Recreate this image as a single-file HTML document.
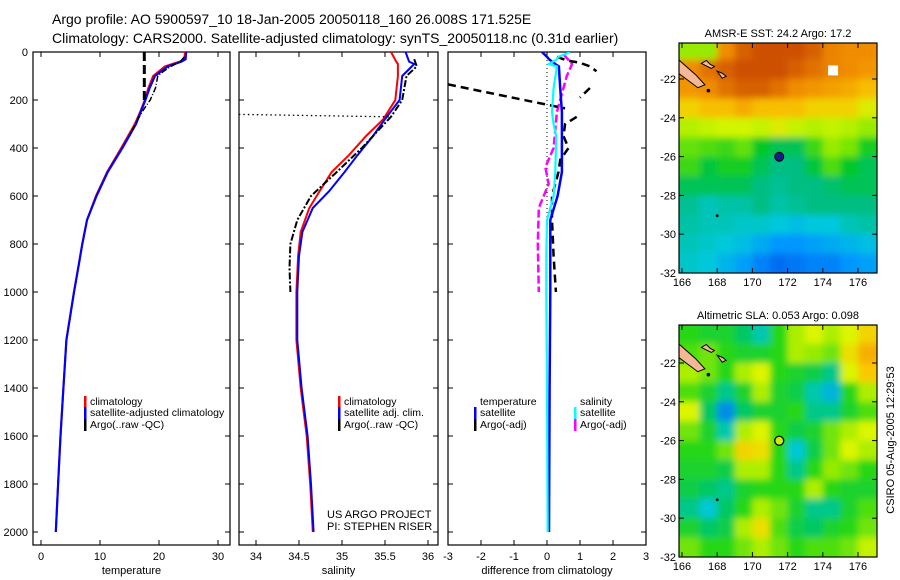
<!DOCTYPE html>
<html><head><meta charset="utf-8">
<style>
html,body{margin:0;padding:0;background:#fff;}
svg{display:block;font-family:"Liberation Sans",sans-serif;}
</style></head>
<body>
<svg id="fig" width="900" height="580" viewBox="0 0 900 580" xmlns="http://www.w3.org/2000/svg">
<defs>
<filter id="blur1" x="-5%" y="-5%" width="110%" height="110%"><feGaussianBlur stdDeviation="3.5"/></filter>
<clipPath id="clipP1"><rect x="33" y="52" width="197" height="493"/></clipPath>
<clipPath id="clipP2"><rect x="239" y="52" width="199" height="493"/></clipPath>
<clipPath id="clipP3"><rect x="448" y="52" width="198" height="493"/></clipPath>
<clipPath id="clipM1"><rect x="679" y="43" width="198" height="230"/></clipPath>
<clipPath id="clipM2"><rect x="679" y="325" width="198" height="232"/></clipPath>
</defs>
<text x="52" y="24" font-size="14">Argo profile: AO 5900597_10 18-Jan-2005 20050118_160 26.008S 171.525E</text>
<text x="52" y="43" font-size="14">Climatology: CARS2000. Satellite-adjusted climatology: synTS_20050118.nc (0.31d earlier)</text>
<text x="778" y="37" font-size="11" text-anchor="middle">AMSR-E SST: 24.2 Argo: 17.2</text>
<text x="778" y="319" font-size="11" text-anchor="middle">Altimetric SLA: 0.053 Argo: 0.098</text>
<text transform="translate(894,440) rotate(-90)" font-size="11" text-anchor="middle">CSIRO 05-Aug-2005 12:29:53</text>
<text x="327" y="518" font-size="11">US ARGO PROJECT</text>
<text x="327" y="530" font-size="11">PI: STEPHEN RISER</text>
</svg>
<script>
// ---------- data ----------
const depthTicks = [0,200,400,600,800,1000,1200,1400,1600,1800,2000];
const tempTicks = [0,10,20,30];
const salTicks = [34,34.5,35,35.5,36];
const salTickLabels = ["34","34.5","35","35.5","36"];
const diffTicks = [-3,-2,-1,0,1,2,3];

const climTDepth = [0,30,40,60,100,150,200,250,300,400,500,600,700,800,900,1000,1200,1400,1600,1800,2000];
const climTVal   = [24.4,24.3,23.5,21,19.0,18.2,17.6,16.8,15.9,13.6,11.2,9.3,7.8,7.0,6.3,5.6,4.3,3.8,3.3,2.9,2.5];
const satTVal    = [24.6,24.5,23.8,21.5,19.3,18.4,17.7,16.9,16.1,13.8,11.3,9.4,7.8,7.0,6.3,5.6,4.3,3.8,3.3,2.9,2.5];
const argoTDepth = [20,40,60,80,100,150,200,250,300,350];
const argoTVal   = [24.3,23.6,22.0,20.8,19.8,19.4,18.5,17.1,16.0,15.0];
const argoRawTDepth = [0,200];
const argoRawTVal = [17.5,17.5];

const salDepth = [0,40,50,100,200,280,350,430,500,580,650,750,850,1000,1200,1400,1600,1800,2000];
const climSVal = [35.57,35.63,35.65,35.65,35.62,35.48,35.28,35.08,34.88,34.74,34.62,34.52,34.49,34.47,34.47,34.52,34.59,34.63,34.66];
const satSVal  = [35.74,35.78,35.84,35.7,35.67,35.5,35.36,35.18,35.03,34.85,34.66,34.54,34.5,34.48,34.48,34.53,34.6,34.64,34.67];
const argoSDepth = [30,60,100,200,270,400,500,600,700,800,900,1000];
const argoSVal   = [35.84,35.87,35.75,35.7,35.57,35.23,34.94,34.64,34.48,34.4,34.39,34.4];
const argoSFlagDepth = 260;
const argoSFlagVal = 33.8;

const diffDepth = [0,20,30,50,60,150,250,300,350,500,600,700,850,1000,1400,2000];
const satTDiff  = [-0.15,0.0,0.06,0.25,0.36,0.4,0.45,0.45,0.45,0.45,0.32,0.1,0.1,0.1,0.08,0.06];
const satSDiff  = [0.7,0.35,0.3,0.06,0.3,0.2,0.15,0.2,0.28,0.25,0.2,0.0,-0.02,-0.02,0.0,0.02];
const argoSDDepth = [10,50,100,250,400,480,550,600,650,800,1000];
const argoSDiff   = [0.5,0.76,0.6,0.3,0.2,-0.05,0.05,-0.1,-0.25,-0.28,-0.25];
const argoTDDepth = [20,35,45,60,80,null,135,235,null,150,190,null,270,300,350,400,450,500,600,700,850,1000];
const argoTDiff   = [0.3,0.6,1.0,1.3,1.5,null,-3.0,0.55,null,1.3,1.0,null,0.9,0.55,0.5,0.65,0.4,0.35,0.15,0.15,0.2,0.27];

const mapLons = [166.5,167.5,168.5,169.5,170.5,171.5,172.5,173.5,174.5,175.5,176.5];
const mapLats = [-20.5,-21.5,-22.5,-23.5,-24.5,-25.5,-26.5,-27.5,-28.5,-29.5,-30.5,-31.5];
const sstGrid = [
[24,24,25.5,26,26.2,26.3,26.2,26,25.6,25.5,25.5],
[25.5,25.8,26,26.2,26.3,26.3,26,25.8,25.6,25.5,25.4],
[25.4,25.5,25.8,26,26,25.8,25.5,25.4,25.3,25.2,25],
[24.8,25,25,25.2,25,25,25,24.8,24.8,24.8,24.5],
[24.2,24.3,24.4,24.4,24.3,24.5,24.3,24.2,24.3,24.2,24],
[23.7,23.6,23.5,23.7,23.2,23,23,23.5,24,23.8,23.3],
[23.5,23.1,23.3,23.3,23,22.8,22.8,23.1,23.6,23.2,23],
[23,23,23,23,22.8,22.7,22.8,22.8,22.9,23,23],
[22.7,22.5,22.6,22.6,22.8,22.6,22.7,22.8,22.8,22.8,22.8],
[22.6,22.5,22.5,22.4,22.4,22.3,22.2,22.3,22.3,22.5,22.6],
[22.5,22.4,22.3,22.2,22,21.8,21.8,21.9,22,22.1,22.2],
[22.4,22.3,22.1,21.9,21.6,21.4,21.5,21.6,21.6,21.8,21.9]];
const slaGrid = [
[.06,.05,.05,.03,.01,.06,.1,.12,.1,.12,.15],
[.07,.08,.06,.05,.05,.06,.1,.09,.08,.14,.18],
[.1,.08,.06,.1,.12,.06,.05,.04,.02,.12,.16],
[.07,.05,.02,.05,.1,.05,.04,.01,-.01,.06,.1],
[.12,.03,-.03,.03,.05,.05,.06,.02,.02,.05,.07],
[.08,.05,.01,.1,.12,.06,.04,.05,.08,.1,.12],
[.06,.06,.08,.15,.14,.06,.0,.04,.08,.12,.1],
[.05,.05,.04,.1,.1,.06,.02,.06,.09,.08,.06],
[.04,.03,.02,.05,.06,.06,.06,.1,.06,.05,.05],
[.02,.0,.03,.06,.1,.08,.05,.02,.02,.05,.07],
[.05,.03,.04,.1,.14,.07,.04,.03,.05,.06,.08],
[.08,.06,.06,.08,.1,.08,.06,.07,.07,.08,.11]];
const latTicks = [-22,-24,-26,-28,-30,-32];
const lonTicks = [166,168,170,172,174,176];
const argoLon = 171.525, argoLat = -26.008;

// ---------- scales ----------
const yD = d => 52 + d*0.24;
const xT = t => 41 + t*5.9;
const xS = s => 256 + (s-34)*86;
const xDf = v => 547 + v*33;
const mx = lon => 682 + (lon-166)*17.6;
const my1 = lat => 79 + (-22-lat)*19.4;
const my2 = lat => 363 + (-22-lat)*19.4;

const svg = document.getElementById('fig');
const NS = 'http://www.w3.org/2000/svg';
function mk(tag, attrs, parent){ const e=document.createElementNS(NS,tag); for(const k in attrs) e.setAttribute(k,attrs[k]); (parent||svg).appendChild(e); return e; }
function pathFrom(depths, vals, xf){
  let d='', pen=false;
  for(let i=0;i<depths.length;i++){
    if(depths[i]===null||vals[i]===null){pen=false;continue;}
    d += (pen?'L':'M') + xf(vals[i]).toFixed(1) + ' ' + yD(depths[i]).toFixed(1) + ' ';
    pen=true;
  }
  return d;
}
function line(depths, vals, xf, color, w, dash, clip, name){
  const p = mk('path',{d:pathFrom(depths,vals,xf),fill:'none',stroke:color,'stroke-width':w,'clip-path':'url(#'+clip+')'});
  if(dash) p.setAttribute('stroke-dasharray',dash);
  
  
}

// ---------- profile panels ----------
const panels = [
 {x0:33,x1:230,ticks:tempTicks,labels:tempTicks.map(String),xf:xT,title:'temperature',name:'temperature-panel'},
 {x0:239,x1:438,ticks:salTicks,labels:salTickLabels,xf:xS,title:'salinity',name:'salinity-panel'},
 {x0:448,x1:646,ticks:diffTicks,labels:diffTicks.map(String),xf:xDf,title:'difference from climatology',name:'difference-panel'}];
panels.forEach((p,pi)=>{
  const g = mk('g',{});
  
  
  mk('rect',{x:p.x0,y:52,width:p.x1-p.x0,height:493,fill:'none',stroke:'#000','stroke-width':1.2},g);
  depthTicks.forEach(d=>{
    mk('line',{x1:p.x0,x2:p.x0+5,y1:yD(d),y2:yD(d),stroke:'#000'},g);
    mk('line',{x1:p.x1-5,x2:p.x1,y1:yD(d),y2:yD(d),stroke:'#000'},g);
    if(pi===0){
      const t = mk('text',{x:28,y:yD(d)+4,'font-size':11,'text-anchor':'end'},g);
      t.textContent = d;
      
      
    }
  });
  p.ticks.forEach((v,i)=>{
    const x=p.xf(v);
    mk('line',{x1:x,x2:x,y1:545,y2:540,stroke:'#000'},g);
    mk('line',{x1:x,x2:x,y1:52,y2:57,stroke:'#000'},g);
    const t = mk('text',{x:x,y:560,'font-size':11,'text-anchor':'middle'},g);
    t.textContent = p.labels[i];
    
    
  });
  const tt = mk('text',{x:(p.x0+p.x1)/2,y:574,'font-size':11,'text-anchor':'middle'},g);
  tt.textContent = p.title;
  
  
});

// temperature
line(climTDepth, climTVal, xT, '#f00', 2, null, 'clipP1', 'temp-climatology-line');
line(climTDepth, satTVal, xT, '#00f', 2.2, null, 'clipP1', 'temp-satellite-line');
line(argoTDepth, argoTVal, xT, '#000', 1.5, '6 2 1 2', 'clipP1', 'temp-argo-line');
line(argoRawTDepth, argoRawTVal, xT, '#000', 3, '9 4', 'clipP1', 'temp-argo-raw-line');
// salinity
line(salDepth, climSVal, xS, '#f00', 2, null, 'clipP2', 'sal-climatology-line');
line(salDepth, satSVal, xS, '#00f', 2, null, 'clipP2', 'sal-satellite-line');
line(argoSDepth, argoSVal, xS, '#000', 2, '7 2 2 2', 'clipP2', 'sal-argo-line');
line([argoSFlagDepth,argoSFlagDepth+10],[argoSFlagVal,35.55], xS, '#000', 1.3, '1.5 3', 'clipP2', 'sal-argo-flag-line');
// difference
line([0,1000],[0,0], xDf, '#000', 1, '1 3', 'clipP3', 'zero-reference-line');
line(argoSDDepth, argoSDiff, xDf, '#f0f', 2.5, '8 3', 'clipP3', 'sal-argo-diff-line');
line(argoTDDepth, argoTDiff, xDf, '#000', 2.5, '8 5', 'clipP3', 'temp-argo-diff-line');
line(diffDepth, satTDiff, xDf, '#00f', 2.5, null, 'clipP3', 'temp-satellite-diff-line');
line(diffDepth, satSDiff, xDf, '#0ff', 2.2, null, 'clipP3', 'sal-satellite-diff-line');

// legends
function legend(x,y,color,label,name){
  const g = mk('g',{});
  
  
  if(color) mk('rect',{x:x,y:y-9,width:2.5,height:12,fill:color},g);
  const t = mk('text',{x:x+6,y:y,'font-size':10.5},g);
  t.textContent = label;
}
legend(84,405,'#f00','climatology','legend-entry-climatology');
legend(84,416,'#00f','satellite-adjusted climatology','legend-entry-satellite');
legend(84,428,'#000','Argo(..raw -QC)','legend-entry-argo');
legend(338,405,'#f00','climatology','legend-entry-climatology');
legend(338,416,'#00f','satellite adj. clim.','legend-entry-satellite');
legend(338,428,'#000','Argo(..raw -QC)','legend-entry-argo');
legend(474,405,null,'temperature','legend-header-temperature');
legend(474,416,'#00f','satellite','legend-entry-temp-satellite');
legend(474,428,'#000','Argo(-adj)','legend-entry-temp-argo');
legend(574,405,null,'salinity','legend-header-salinity');
legend(574,416,'#0ff','satellite','legend-entry-sal-satellite');
legend(574,428,'#f0f','Argo(-adj)','legend-entry-sal-argo');

// ---------- maps ----------
function lerpColor(stops, v){
  if(v<=stops[0][0]) return 'rgb('+stops[0][1].join(',')+')';
  for(let i=1;i<stops.length;i++){
    if(v<=stops[i][0]){
      const a=stops[i-1], b=stops[i], f=(v-a[0])/(b[0]-a[0]);
      const c=a[1].map((x,k)=>Math.round(x+(b[1][k]-x)*f));
      return 'rgb('+c.join(',')+')';
    }
  }
  return 'rgb('+stops[stops.length-1][1].join(',')+')';
}
const sstStops = [[21.3,[0,100,240]],[21.8,[0,150,255]],[22.3,[0,200,220]],[22.8,[0,190,130]],[23.2,[0,200,40]],[23.8,[120,230,0]],[24.4,[210,245,0]],[24.9,[250,200,0]],[25.5,[240,140,0]],[26.2,[205,80,0]]];
const slaStops = [[-0.04,[0,120,240]],[0.0,[0,200,210]],[0.03,[0,200,100]],[0.06,[40,215,20]],[0.09,[150,235,0]],[0.12,[220,245,0]],[0.16,[250,200,0]],[0.2,[240,150,0]]];
function drawMap(grid, stops, myf, clip, y0, y1, name, marker){
  const g = mk('g',{});
  
  
  const inner = mk('g',{'clip-path':'url(#'+clip+')'},g);
  const fg = mk('g',{filter:'url(#blur1)'},inner);
  for(let r=-1;r<=mapLats.length;r++){
    const rr=Math.min(Math.max(r,0),mapLats.length-1);
    for(let c=-1;c<=mapLons.length;c++){
      const cc=Math.min(Math.max(c,0),mapLons.length-1);
      const lon=166.5+c, lat=-20.5-r;
      const cell = mk('rect',{x:mx(lon-0.5),y:myf(lat+0.5),width:17.8,height:19.6,fill:lerpColor(stops,grid[rr][cc])},fg);
      
      
    }
  }
  mk('path',{d:`M${mx(165.8)} ${myf(-21.0)} L${mx(166.8)} ${myf(-21.8)} L${mx(167.3)} ${myf(-22.3)} L${mx(166.9)} ${myf(-22.45)} L${mx(165.8)} ${myf(-21.7)} Z`,fill:'#f5b895',stroke:'#000','stroke-width':1},inner);
  mk('path',{d:`M${mx(167.1)} ${myf(-21.2)} l5 -3 l4 4 l4 2 l-3 2 z`,fill:'#f5b895',stroke:'#000','stroke-width':1},inner);
  mk('path',{d:`M${mx(168.0)} ${myf(-21.6)} l5 2 l4 3 l-4 2 z`,fill:'#f5b895',stroke:'#000','stroke-width':1},inner);
  mk('circle',{cx:mx(167.5),cy:myf(-22.6),r:1.8,fill:'#000'},inner);
  mk('circle',{cx:mx(168.0),cy:myf(-29.05),r:1.4,fill:'#000'},inner);
  mk('rect',{x:679,y:y0,width:198,height:y1-y0,fill:'none',stroke:'#000','stroke-width':1.2},g);
  latTicks.forEach(l=>{
    mk('line',{x1:877,x2:872,y1:myf(l),y2:myf(l),stroke:'#000'},g);
    mk('line',{x1:679,x2:684,y1:myf(l),y2:myf(l),stroke:'#000'},g);
    const t = mk('text',{x:676,y:myf(l)+4,'font-size':11,'text-anchor':'end'},g);
    t.textContent = l;
    
    
  });
  lonTicks.forEach(l=>{
    mk('line',{x1:mx(l),x2:mx(l),y1:y1,y2:y1-5,stroke:'#000'},g);
    mk('line',{x1:mx(l),x2:mx(l),y1:y0,y2:y0+5,stroke:'#000'},g);
    const t = mk('text',{x:mx(l),y:y1+13,'font-size':11,'text-anchor':'middle'},g);
    t.textContent = l;
    
    
  });
  marker(g);
}
drawMap(sstGrid, sstStops, my1, 'clipM1', 43, 273, 'sst-map', g=>{
  mk('rect',{x:mx(174.3),y:my1(-21.3),width:10,height:10,fill:'#fff'},g);
  const c = mk('circle',{cx:mx(argoLon),cy:my1(argoLat),r:4.5,fill:'#1a1a8c',stroke:'#000','stroke-width':1},g);
  
  
});
drawMap(slaGrid, slaStops, my2, 'clipM2', 325, 557, 'sla-map', g=>{
  const c = mk('circle',{cx:mx(argoLon),cy:my2(argoLat),r:4.5,fill:'#c8ee00',stroke:'#000','stroke-width':1.3},g);
  
  
});
</script>
</body></html>
